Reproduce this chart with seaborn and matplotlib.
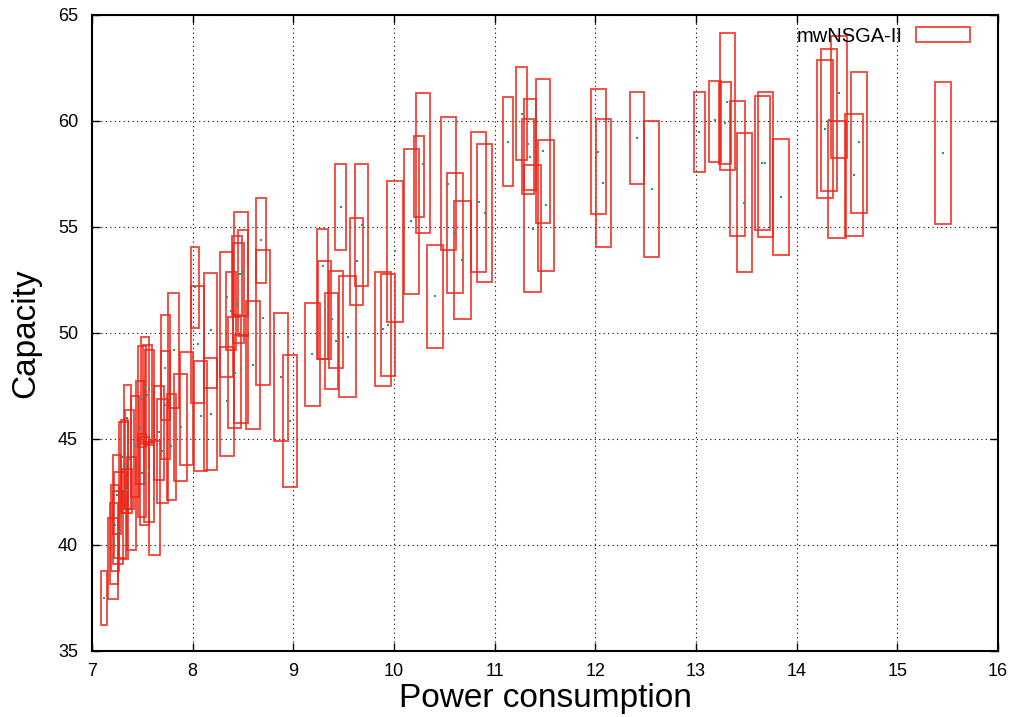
import numpy as np
import pandas as pd
import matplotlib
matplotlib.use("Agg")
import matplotlib.pyplot as plt
import seaborn as sns

# Box data: centre power, capacity range and the median dot
power = [7.12, 7.21, 7.22, 7.23, 7.26, 7.28, 7.25, 7.31, 7.32, 7.35,
         7.35, 7.37, 7.39, 7.43, 7.48, 7.50, 7.53, 7.55, 7.57, 7.50,
         7.52, 7.57, 7.62, 7.67, 7.70, 7.73, 7.73, 7.81, 7.79, 7.88,
         7.94, 8.02, 8.05, 8.18, 8.18, 8.08, 8.34, 8.38, 8.42, 8.34,
         8.44, 8.46, 8.48, 8.50, 8.48, 8.60, 8.68, 8.70, 8.88, 8.97,
         9.19, 9.29, 9.31, 9.38, 9.42, 9.47, 9.54, 9.63, 9.68, 9.89,
         9.94, 10.01, 10.17, 10.25, 10.29, 10.41, 10.54, 10.61, 10.68, 10.84,
         10.90, 11.13, 11.27, 11.35, 11.33, 11.48, 11.38, 11.51, 12.03, 12.08,
         12.41, 12.56, 13.03, 13.19, 13.29, 13.31, 13.41, 13.48, 13.66, 13.69,
         13.84, 14.28, 14.32, 14.42, 14.40, 14.57, 14.62, 15.45]
cap_low = [36.19, 37.45, 38.16, 38.78, 39.07, 39.37, 40.52, 39.34, 41.51, 41.70,
           41.49, 41.70, 39.76, 42.25, 42.88, 44.61, 44.77, 44.80, 44.69, 41.30,
           40.91, 41.05, 39.53, 43.07, 41.98, 44.03, 45.90, 46.45, 42.13, 43.00,
           43.74, 50.23, 46.70, 47.41, 43.51, 43.46, 47.91, 49.21, 45.51, 44.17,
           50.82, 49.52, 50.80, 49.85, 45.73, 45.46, 52.37, 47.54, 44.88, 42.74,
           46.53, 48.77, 48.77, 47.37, 48.34, 53.90, 46.98, 51.30, 52.21, 47.51,
           47.95, 50.51, 51.84, 55.47, 54.70, 49.28, 53.89, 51.87, 50.64, 52.88,
           52.40, 56.91, 58.15, 56.75, 56.55, 55.16, 51.95, 52.91, 55.59, 54.07,
           57.02, 53.56, 57.58, 58.07, 57.96, 57.68, 54.55, 52.85, 54.84, 54.50,
           53.65, 56.34, 56.67, 58.23, 54.47, 54.59, 55.65, 55.13]
cap_high = [38.77, 41.27, 41.95, 42.81, 42.53, 43.44, 44.24, 45.78, 45.90, 47.56,
            43.58, 46.34, 44.15, 47.02, 47.74, 49.40, 49.82, 49.44, 49.17, 45.22,
            45.08, 44.86, 44.88, 47.49, 46.89, 50.86, 49.16, 51.90, 47.13, 48.07,
            49.08, 54.06, 52.20, 52.81, 48.83, 48.67, 53.82, 52.89, 50.75, 49.35,
            54.59, 54.22, 55.68, 54.83, 49.88, 51.50, 56.34, 53.90, 50.95, 48.95,
            51.43, 54.91, 53.40, 51.88, 52.92, 57.99, 52.66, 55.44, 57.95, 52.88,
            52.80, 57.17, 58.67, 59.28, 61.30, 54.15, 60.17, 57.55, 56.23, 59.46,
            58.89, 61.14, 62.56, 61.03, 60.10, 61.96, 57.90, 59.11, 61.49, 60.07,
            61.38, 60.00, 61.36, 61.90, 61.82, 64.14, 60.92, 59.44, 61.19, 61.35,
            59.17, 62.86, 63.41, 64.00, 60.00, 60.34, 62.32, 61.82]
cap_mid = [37.48, 39.37, 40.06, 40.94, 40.64, 41.29, 42.33, 44.14, 43.71, 45.98,
           42.60, 44.03, 41.96, 44.64, 45.49, 46.89, 47.44, 47.08, 47.37, 43.40,
           43.05, 43.47, 42.20, 45.30, 44.44, 48.36, 46.59, 49.17, 44.65, 45.55,
           46.40, 52.15, 49.45, 50.12, 46.17, 46.08, 51.68, 51.03, 48.10, 46.77,
           51.36, 52.80, 52.77, 52.89, 48.36, 48.50, 54.36, 50.72, 47.92, 45.86,
           48.99, 53.16, 51.07, 50.64, 49.62, 55.95, 49.81, 53.38, 55.08, 50.20,
           50.36, 53.85, 55.27, 57.38, 57.98, 51.73, 57.03, 54.72, 53.43, 56.18,
           55.67, 59.02, 60.35, 58.31, 58.90, 58.58, 54.92, 56.01, 58.54, 57.06,
           59.20, 56.77, 59.47, 60.04, 59.90, 60.90, 57.73, 56.13, 58.03, 58.00,
           56.42, 59.60, 60.04, 61.33, 57.24, 57.47, 58.99, 58.47]
box_width = [0.063, 0.097, 0.087, 0.087, 0.106, 0.113, 0.073, 0.087, 0.073, 0.073,
             0.103, 0.087, 0.090, 0.083, 0.083, 0.080, 0.083, 0.093, 0.093, 0.083,
             0.090, 0.100, 0.107, 0.100, 0.113, 0.090, 0.090, 0.110, 0.097, 0.127,
             0.123, 0.080, 0.133, 0.127, 0.130, 0.127, 0.130, 0.097, 0.130, 0.143,
             0.107, 0.110, 0.130, 0.107, 0.140, 0.140, 0.103, 0.140, 0.140, 0.140,
             0.150, 0.107, 0.137, 0.137, 0.140, 0.110, 0.167, 0.127, 0.127, 0.167,
             0.140, 0.153, 0.150, 0.103, 0.137, 0.157, 0.143, 0.160, 0.167, 0.143,
             0.150, 0.100, 0.107, 0.120, 0.120, 0.147, 0.170, 0.163, 0.143, 0.150,
             0.137, 0.153, 0.110, 0.120, 0.120, 0.150, 0.153, 0.150, 0.157, 0.147,
             0.160, 0.160, 0.157, 0.150, 0.173, 0.173, 0.160, 0.157]

x_ticks = [7, 8, 9, 10, 11, 12, 13, 14, 15, 16]
y_ticks = [35, 40, 45, 50, 55, 60, 65]

df = pd.DataFrame({"power": power, "low": cap_low, "high": cap_high,
                   "mid": cap_mid, "width": box_width})

sns.set_style("ticks")
plt.rcParams["font.family"] = ["Liberation Sans", "DejaVu Sans"]
plt.rcParams["text.color"] = "black"
plt.rcParams["axes.labelcolor"] = "black"
plt.rcParams["xtick.color"] = "black"
plt.rcParams["ytick.color"] = "black"

fig = plt.figure(figsize=(10.15, 7.17), dpi=100)
ax = fig.add_axes([0.0906, 0.0925, 0.8927, 0.8866])

# red open boxes (gnuplot candlestick look)
ax.bar(df["power"], df["high"] - df["low"], bottom=df["low"], width=df["width"],
       fill=False, edgecolor="#ee2418", linewidth=1.3, alpha=0.85,
       label="mwNSGA-II", zorder=3)

# tiny teal median dots
sns.scatterplot(data=df, x="power", y="mid", color="#139f80", s=4, marker="s",
                linewidth=0, ax=ax, zorder=4, legend=False)

ax.set_xlim(7, 16)
ax.set_ylim(35, 65)
ax.set_xticks(x_ticks)
ax.set_yticks(y_ticks)
ax.grid(True, linestyle=(0, (1, 3)), color="black", linewidth=0.8)
ax.set_axisbelow(True)
ax.tick_params(direction="in", top=True, right=True, length=6, width=1,
               labelsize=13, colors="black")
ax.tick_params(axis="x", pad=9)
ax.tick_params(axis="y", pad=10)
for s in ax.spines.values():
    s.set_linewidth(1.5)
    s.set_color("black")

ax.set_xlabel("Power consumption", fontsize=24, labelpad=2, color="black")
ax.set_ylabel("Capacity", fontsize=24, labelpad=12, color="black")

leg = ax.legend(loc="upper right", bbox_to_anchor=(0.985, 1.004), frameon=False,
                markerfirst=False, fontsize=14.5, handlelength=2.7,
                handleheight=0.75, handletextpad=0.65, borderaxespad=0.3)
for t in leg.get_texts():
    t.set_color("black")

fig.savefig("out.png", dpi=100)
